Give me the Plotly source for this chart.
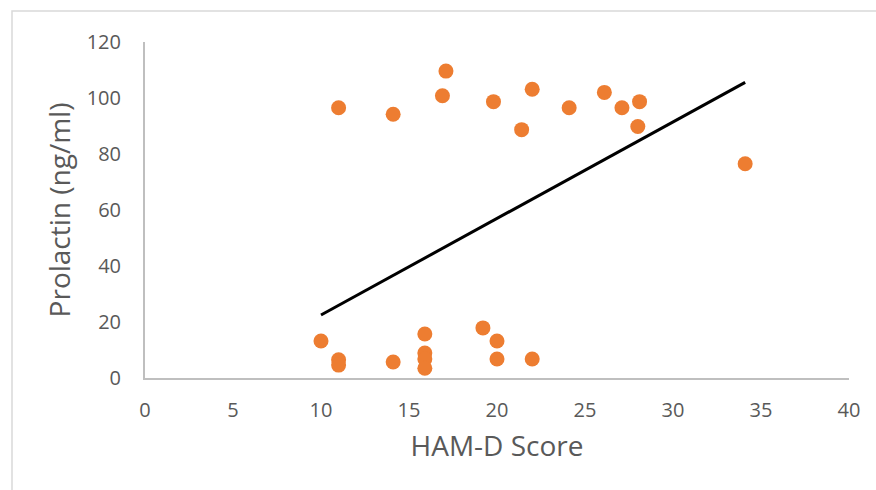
import plotly.graph_objects as go

# HAM-D score vs prolactin measurements
ham_d = [10, 11, 11, 14.1, 15.9, 15.9, 15.9, 15.9, 19.2, 20, 20, 22,
         11, 14.1, 17.1, 16.9, 19.8, 21.4, 22, 24.1, 26.1, 27.1, 28.1, 28, 34.1]
prolactin = [13.2, 6.5, 4.6, 5.7, 15.7, 8.9, 6.8, 3.5, 17.9, 13.2, 6.8, 6.8,
             96.5, 94.2, 109.6, 100.8, 98.7, 88.7, 103.1, 96.5, 102.0, 96.5, 98.7, 89.8, 76.5]

# linear trend endpoints
trend_x = [10, 34.1]
trend_y = [22.5, 105.6]

x_ticks = [0, 5, 10, 15, 20, 25, 30, 35, 40]
y_ticks = [0, 20, 40, 60, 80, 100, 120]

FONT = "Open Sans"
TICK_COLOR = "#595959"
AXIS_COLOR = "#bfbfbf"

fig = go.Figure()
fig.add_trace(go.Scatter(
    x=ham_d, y=prolactin, mode="markers",
    marker=dict(color="#ED7D31", size=15, line=dict(width=0)),
    showlegend=False, hoverinfo="x+y",
))
fig.add_trace(go.Scatter(
    x=trend_x, y=trend_y, mode="lines",
    line=dict(color="black", width=3),
    showlegend=False, hoverinfo="skip",
))

fig.update_layout(
    width=876, height=490,
    margin=dict(l=145, r=27, t=42, b=112),
    paper_bgcolor="white", plot_bgcolor="white",
    font=dict(family=FONT, color=TICK_COLOR),
    xaxis=dict(
        range=[0, 40], tickvals=x_ticks, showgrid=False, zeroline=False,
        showline=True, linecolor=AXIS_COLOR, linewidth=2,
        tickfont=dict(size=20, color=TICK_COLOR), ticks="",
        ticklabelstandoff=13,
        title=dict(text="HAM-D Score", font=dict(size=28, color=TICK_COLOR), standoff=14),
    ),
    yaxis=dict(
        range=[0, 120], tickvals=y_ticks, showgrid=False, zeroline=False,
        showline=True, linecolor=AXIS_COLOR, linewidth=2,
        tickfont=dict(size=20, color=TICK_COLOR), ticks="",
        ticklabelstandoff=18,
        title=dict(text="Prolactin (ng/ml)", font=dict(size=28, color=TICK_COLOR), standoff=8),
    ),
    shapes=[dict(
        type="rect", xref="paper", yref="paper",
        x0=(12 - 145) / 704, x1=(890 - 145) / 704,
        y0=(378 - 500) / 336, y1=1 + (42 - 11) / 336,
        line=dict(color="#d9d9d9", width=1.5), fillcolor="rgba(0,0,0,0)",
        layer="below",
    )],
)

fig.write_html("out.html")
